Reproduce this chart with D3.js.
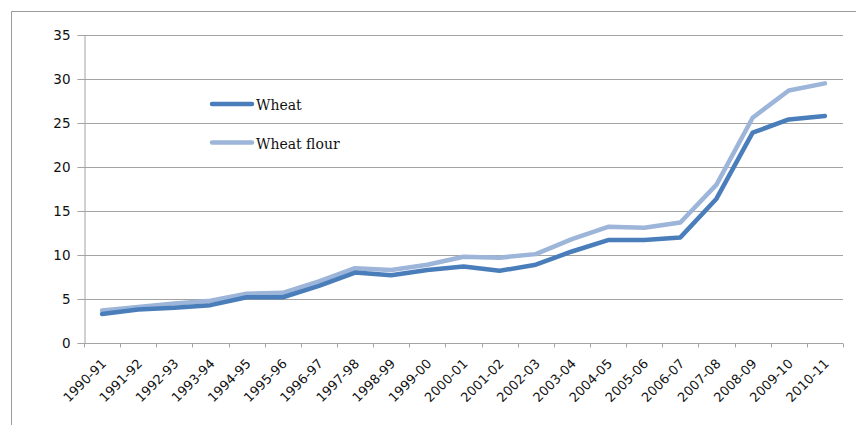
<!DOCTYPE html>
<html>
<head>
<meta charset="utf-8">
<script src="https://cdn.jsdelivr.net/npm/d3@7"></script>
<style>
  html, body { margin: 0; padding: 0; background: #fff; }
  svg { display: block; }
</style>
</head>
<body>
<svg id="chart" width="856" height="425"></svg>
<script>
// Marketing years
const years = ["1990-91","1991-92","1992-93","1993-94","1994-95","1995-96","1996-97",
  "1997-98","1998-99","1999-00","2000-01","2001-02","2002-03","2003-04","2004-05",
  "2005-06","2006-07","2007-08","2008-09","2009-10","2010-11"];

// Prices per series
const wheat = [3.3, 3.8, 4.0, 4.3, 5.2, 5.2, 6.5, 8.0, 7.7, 8.3, 8.7, 8.2, 8.9, 10.4,
  11.7, 11.7, 12.0, 16.4, 23.9, 25.4, 25.8];
const wheatFlour = [3.7, 4.1, 4.5, 4.8, 5.6, 5.7, 7.0, 8.5, 8.3, 8.9, 9.8, 9.7, 10.1, 11.8,
  13.2, 13.1, 13.7, 18.0, 25.6, 28.7, 29.5];

const yTicks = [0, 5, 10, 15, 20, 25, 30, 35];

const seriesNames = ["Wheat", "Wheat flour"];
const seriesColors = ["#4a7ebb", "#9cb5d9"];
const seriesData = [wheat, wheatFlour];

const svg = d3.select("#chart");
const gridColor = "#a3a3a3";

// Outer frame (left and top edges)
svg.append("path")
  .attr("d", "M11.5,425 V11.5 H856")
  .attr("fill", "none")
  .attr("stroke", "#9a9a9a")
  .attr("stroke-width", 1);

const plot = { left: 84, right: 843, top: 35, bottom: 343 };

const x = d3.scaleBand().domain(years).range([plot.left, plot.right]).padding(0);
const y = d3.scaleLinear().domain([0, 35]).range([plot.bottom, plot.top]);

// Horizontal gridlines
svg.append("g")
  .selectAll("line")
  .data(yTicks.filter(d => d > 0))
  .join("line")
  .attr("x1", plot.left).attr("x2", plot.right)
  .attr("y1", d => Math.round(y(d)) + 0.5).attr("y2", d => Math.round(y(d)) + 0.5)
  .attr("stroke", gridColor).attr("stroke-width", 1);

// Y axis
const yAxis = svg.append("g")
  .attr("transform", `translate(${plot.left + 0.5},0)`)
  .call(d3.axisLeft(y).tickValues(yTicks).tickSize(7).tickPadding(7).tickSizeOuter(0));
yAxis.select(".domain").attr("stroke", gridColor);
yAxis.selectAll(".tick line").attr("stroke", gridColor);
yAxis.selectAll(".tick text")
  .attr("font-family", "'DejaVu Sans', sans-serif")
  .attr("font-size", 13.5)
  .attr("fill", "#111");

// X axis with ticks at category boundaries
const xAxisG = svg.append("g")
  .attr("transform", `translate(0,${Math.round(plot.bottom) + 0.5})`);
xAxisG.append("line")
  .attr("x1", plot.left).attr("x2", plot.right)
  .attr("stroke", gridColor);
const boundaries = years.map(d => x(d)).concat([x(years[years.length - 1]) + x.bandwidth()]);
xAxisG.selectAll("line.tick")
  .data(boundaries)
  .join("line")
  .attr("class", "tick")
  .attr("x1", d => Math.round(d) + 0.5).attr("x2", d => Math.round(d) + 0.5)
  .attr("y1", 0).attr("y2", 4)
  .attr("stroke", gridColor);
xAxisG.selectAll("text")
  .data(years)
  .join("text")
  .attr("transform", d => `translate(${x(d) + x.bandwidth() / 2 + 5},${21}) rotate(-45)`)
  .attr("text-anchor", "end")
  .attr("font-family", "'DejaVu Sans', sans-serif")
  .attr("font-size", 13)
  .attr("fill", "#111")
  .text(d => d);

// Series lines
const line = d3.line()
  .x((d, i) => x(years[i]) + x.bandwidth() / 2)
  .y(d => y(d));

// draw lighter series first so the darker one sits on top where they overlap
[1, 0].forEach(k => {
  svg.append("path")
    .datum(seriesData[k])
    .attr("d", line)
    .attr("fill", "none")
    .attr("stroke", seriesColors[k])
    .attr("stroke-width", 4.5)
    .attr("stroke-linejoin", "round")
    .attr("stroke-linecap", "round");
});

// Legend
const legend = svg.append("g").attr("transform", "translate(212,104)");
seriesNames.forEach((name, i) => {
  const g = legend.append("g").attr("transform", `translate(0,${i * 38.5})`);
  g.append("line")
    .attr("x1", 0).attr("x2", 40)
    .attr("stroke", seriesColors[i])
    .attr("stroke-width", 4.5)
    .attr("stroke-linecap", "round");
  g.append("text")
    .attr("x", 44).attr("y", 6)
    .attr("font-family", "'DejaVu Serif', serif")
    .attr("font-size", 14)
    .attr("fill", "#111")
    .text(name);
});
</script>
</body>
</html>
